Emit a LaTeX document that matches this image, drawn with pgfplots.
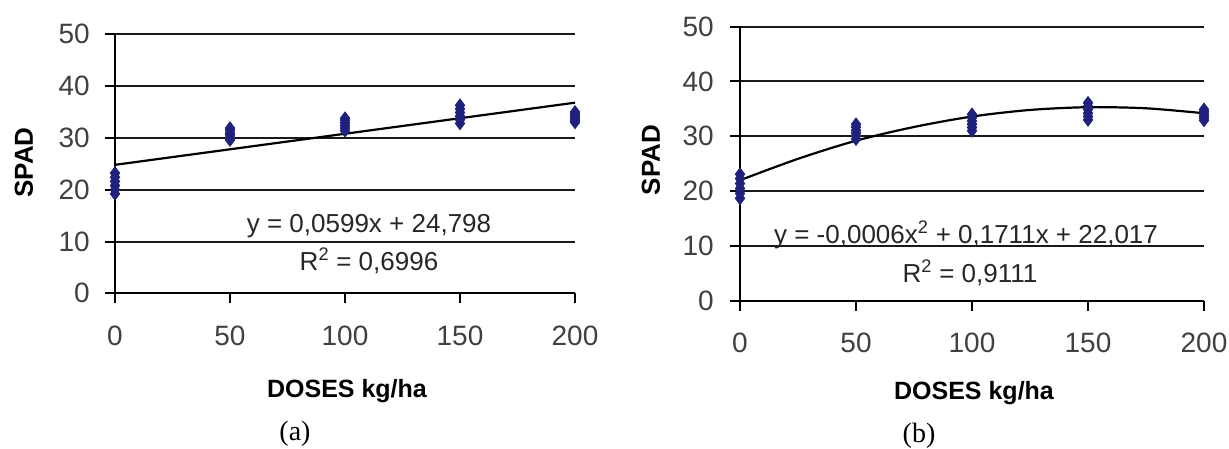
\documentclass[border=0pt]{standalone}
\usepackage{fontspec}
\setmainfont{Liberation Sans}
\newfontfamily\timesfont{Liberation Serif}
\usepackage{pgfplots}
\pgfplotsset{compat=1.18}
\definecolor{navy}{RGB}{32,32,125}
\pgfplotsset{excel/.style={
  scale only axis, axis lines=left, axis line style={-, line width=2pt, black},
  xmin=0, xmax=200, ymin=0, ymax=50,
  xtick={0,50,...,200}, ytick={0,10,...,50},
  ymajorgrids, major grid style={line width=2pt, black!90},
  tick align=outside, major tick length=10pt, tick style={line width=2pt, black},
  /pgf/number format/assume math mode=true,
  ticklabel style={font=\fontsize{28}{30}\selectfont, inner sep=0pt, text=black!75},
  xticklabel style={yshift=-22pt},
  yticklabel style={xshift=-15pt},
  clip=false,
}}
\begin{document}
\begin{tikzpicture}
\path[use as bounding box] (0,0) rectangle (1229pt,448pt);
% ---------------- (a)
\begin{axis}[excel, at={(115pt,154.7pt)}, anchor=south west, width=460pt, height=259pt]
\addplot[only marks, mark=diamond*, mark size=6.3pt, navy, mark options={fill=navy, draw=navy, line width=0.8pt}] coordinates {
(0,19.2) (0,20.0) (0,20.8) (0,21.6) (0,22.4) (0,23.2)
(50,29.6) (50,30.1) (50,30.6) (50,31.0) (50,31.5) (50,31.9)
(100,31.4) (100,31.9) (100,32.4) (100,32.9) (100,33.4) (100,33.8)
(150,32.8) (150,33.5) (150,34.2) (150,34.9) (150,35.6) (150,36.3)
(200,33.0) (200,33.4) (200,33.8) (200,34.2) (200,34.6) (200,35.0)
};
\addplot[black, line width=2.2pt] coordinates {(0,24.8) (200,36.8)};
\end{axis}
% ---------------- (b)
\begin{axis}[excel, at={(740pt,147pt)}, anchor=south west, width=464pt, height=274.5pt, yticklabel style={xshift=-1pt}]
\addplot[only marks, mark=diamond*, mark size=6.3pt, navy, mark options={fill=navy, draw=navy, line width=0.8pt}] coordinates {
(0,18.7) (0,19.6) (0,20.5) (0,21.4) (0,22.3) (0,23.1)
(50,29.5) (50,30.1) (50,30.6) (50,31.1) (50,31.7) (50,32.2)
(100,31.0) (100,31.6) (100,32.2) (100,32.8) (100,33.4) (100,34.0)
(150,33.0) (150,33.6) (150,34.2) (150,34.9) (150,35.5) (150,36.1)
(200,32.9) (200,33.3) (200,33.7) (200,34.1) (200,34.5) (200,34.9)
};
\addplot[black, line width=2.2pt, smooth] coordinates {
(0,22.0) (25,25.9) (50,29.2) (75,31.7) (100,33.6) (125,34.8) (150,35.3) (175,35.1) (200,34.2)};
\end{axis}
% ---------------- texts
\node[rotate=90, font=\bfseries\fontsize{26}{28}\selectfont] at (24pt,285.5pt) {SPAD};
\node[rotate=90, font=\bfseries\fontsize{26}{28}\selectfont] at (651pt,288pt) {SPAD};
\node[anchor=base, inner sep=0pt, font=\bfseries\fontsize{25}{27}\selectfont] at (347pt,51pt) {DOSES kg/ha};
\node[anchor=base, inner sep=0pt, font=\bfseries\fontsize{25}{27}\selectfont] at (974pt,49pt) {DOSES kg/ha};
\node[anchor=base, inner sep=0pt, font=\timesfont\fontsize{28}{30}\selectfont] at (295pt,8pt) {(a)};
\node[anchor=base, inner sep=0pt, font=\timesfont\fontsize{28}{30}\selectfont] at (919pt,6pt) {(b)};
\node[anchor=base, inner sep=0pt, text=black!85, font=\fontsize{26}{28}\selectfont] at (369pt,216pt) {y = 0,0599x + 24,798};
\node[anchor=base, inner sep=0pt, text=black!85, font=\fontsize{26}{28}\selectfont] at (369pt,178pt) {R\textsuperscript{2} = 0,6996};
\node[anchor=base, inner sep=0pt, text=black!85, font=\fontsize{26}{28}\selectfont] at (966pt,205pt) {y = -0,0006x\textsuperscript{2} + 0,1711x + 22,017};
\node[anchor=base, inner sep=0pt, text=black!85, font=\fontsize{26}{28}\selectfont] at (970pt,166pt) {R\textsuperscript{2} = 0,9111};
\end{tikzpicture}
\end{document}
